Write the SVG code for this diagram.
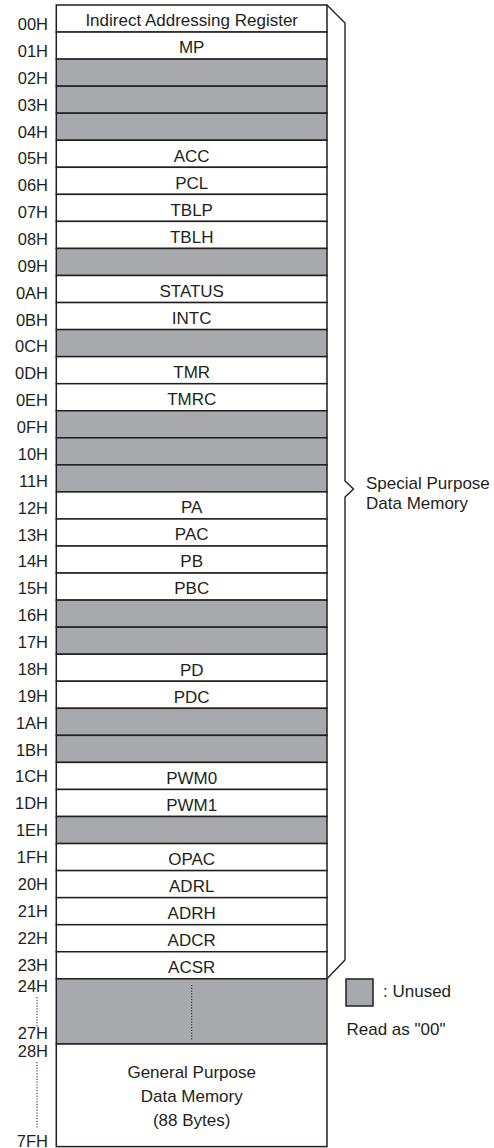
<svg xmlns="http://www.w3.org/2000/svg" width="494" height="1148" viewBox="0 0 494 1148">
<style>
text{font-family:"Liberation Sans",Arial,sans-serif;fill:#231f20}
.t{font-size:17px;text-anchor:middle}
.l{font-size:16.5px;text-anchor:end}
.r{fill:#fff;stroke:#231f20;stroke-width:1.5}
.g{fill:#a7a9ac;stroke:#231f20;stroke-width:1.5}
.d{stroke:#231f20;stroke-width:1;stroke-dasharray:1.2 1.6;fill:none}
.b{fill:none;stroke:#231f20;stroke-width:1.4}
</style>
<g id="labels">
<text class="l" x="48" y="30">00H</text>
<text class="l" x="48" y="56.9">01H</text>
<text class="l" x="48" y="83.7">02H</text>
<text class="l" x="48" y="110.6">03H</text>
<text class="l" x="48" y="137.5">04H</text>
<text class="l" x="48" y="164.4">05H</text>
<text class="l" x="48" y="191.2">06H</text>
<text class="l" x="48" y="218.1">07H</text>
<text class="l" x="48" y="245">08H</text>
<text class="l" x="48" y="271.8">09H</text>
<text class="l" x="48" y="298.7">0AH</text>
<text class="l" x="48" y="325.6">0BH</text>
<text class="l" x="48" y="352.4">0CH</text>
<text class="l" x="48" y="379.3">0DH</text>
<text class="l" x="48" y="406.2">0EH</text>
<text class="l" x="48" y="433.1">0FH</text>
<text class="l" x="48" y="459.9">10H</text>
<text class="l" x="48" y="486.8">11H</text>
<text class="l" x="48" y="513.7">12H</text>
<text class="l" x="48" y="540.5">13H</text>
<text class="l" x="48" y="567.4">14H</text>
<text class="l" x="48" y="594.3">15H</text>
<text class="l" x="48" y="621.1">16H</text>
<text class="l" x="48" y="648">17H</text>
<text class="l" x="48" y="674.9">18H</text>
<text class="l" x="48" y="701.8">19H</text>
<text class="l" x="48" y="728.6">1AH</text>
<text class="l" x="48" y="755.5">1BH</text>
<text class="l" x="48" y="782.4">1CH</text>
<text class="l" x="48" y="809.2">1DH</text>
<text class="l" x="48" y="836.1">1EH</text>
<text class="l" x="48" y="863">1FH</text>
<text class="l" x="48" y="889.8">20H</text>
<text class="l" x="48" y="916.7">21H</text>
<text class="l" x="48" y="943.6">22H</text>
<text class="l" x="48" y="970.5">23H</text>
<text class="l" x="48" y="991.7">24H</text>
<text class="l" x="48" y="1039">27H</text>
<text class="l" x="48" y="1056.7">28H</text>
<text class="l" x="48" y="1146.5">7FH</text>
<line class="d" x1="37" y1="997" x2="37" y2="1027"/>
<line class="d" x1="37" y1="1062" x2="37" y2="1128"/>
</g>
<g id="r00"><rect class="r" x="56.3" y="5" width="270.7" height="27.05"/><text class="t" x="191.7" y="26">Indirect Addressing Register</text></g>
<g id="r01"><rect class="r" x="56.3" y="32.05" width="270.7" height="27.05"/><text class="t" x="191.7" y="53.3">MP</text></g>
<g id="r02"><rect class="g" x="56.3" y="59.1" width="270.7" height="27.05"/></g>
<g id="r03"><rect class="g" x="56.3" y="86.15" width="270.7" height="27.05"/></g>
<g id="r04"><rect class="g" x="56.3" y="113.2" width="270.7" height="27.05"/></g>
<g id="r05"><rect class="r" x="56.3" y="140.25" width="270.7" height="27.05"/><text class="t" x="191.7" y="161.5">ACC</text></g>
<g id="r06"><rect class="r" x="56.3" y="167.3" width="270.7" height="27.05"/><text class="t" x="191.7" y="188.6">PCL</text></g>
<g id="r07"><rect class="r" x="56.3" y="194.35" width="270.7" height="27.05"/><text class="t" x="191.7" y="215.6">TBLP</text></g>
<g id="r08"><rect class="r" x="56.3" y="221.4" width="270.7" height="27.05"/><text class="t" x="191.7" y="242.7">TBLH</text></g>
<g id="r09"><rect class="g" x="56.3" y="248.45" width="270.7" height="27.05"/></g>
<g id="r0A"><rect class="r" x="56.3" y="275.5" width="270.7" height="27.05"/><text class="t" x="191.7" y="296.8">STATUS</text></g>
<g id="r0B"><rect class="r" x="56.3" y="302.55" width="270.7" height="27.05"/><text class="t" x="191.7" y="323.8">INTC</text></g>
<g id="r0C"><rect class="g" x="56.3" y="329.6" width="270.7" height="27.05"/></g>
<g id="r0D"><rect class="r" x="56.3" y="356.65" width="270.7" height="27.05"/><text class="t" x="191.7" y="377.9">TMR</text></g>
<g id="r0E"><rect class="r" x="56.3" y="383.7" width="270.7" height="27.05"/><text class="t" x="191.7" y="405">TMRC</text></g>
<g id="r0F"><rect class="g" x="56.3" y="410.75" width="270.7" height="27.05"/></g>
<g id="r10"><rect class="g" x="56.3" y="437.8" width="270.7" height="27.05"/></g>
<g id="r11"><rect class="g" x="56.3" y="464.85" width="270.7" height="27.05"/></g>
<g id="r12"><rect class="r" x="56.3" y="491.9" width="270.7" height="27.05"/><text class="t" x="191.7" y="513.2">PA</text></g>
<g id="r13"><rect class="r" x="56.3" y="518.95" width="270.7" height="27.05"/><text class="t" x="191.7" y="540.2">PAC</text></g>
<g id="r14"><rect class="r" x="56.3" y="546" width="270.7" height="27.05"/><text class="t" x="191.7" y="567.3">PB</text></g>
<g id="r15"><rect class="r" x="56.3" y="573.05" width="270.7" height="27.05"/><text class="t" x="191.7" y="594.3">PBC</text></g>
<g id="r16"><rect class="g" x="56.3" y="600.1" width="270.7" height="27.05"/></g>
<g id="r17"><rect class="g" x="56.3" y="627.15" width="270.7" height="27.05"/></g>
<g id="r18"><rect class="r" x="56.3" y="654.2" width="270.7" height="27.05"/><text class="t" x="191.7" y="675.5">PD</text></g>
<g id="r19"><rect class="r" x="56.3" y="681.25" width="270.7" height="27.05"/><text class="t" x="191.7" y="702.5">PDC</text></g>
<g id="r1A"><rect class="g" x="56.3" y="708.3" width="270.7" height="27.05"/></g>
<g id="r1B"><rect class="g" x="56.3" y="735.35" width="270.7" height="27.05"/></g>
<g id="r1C"><rect class="r" x="56.3" y="762.4" width="270.7" height="27.05"/><text class="t" x="191.7" y="783.7">PWM0</text></g>
<g id="r1D"><rect class="r" x="56.3" y="789.45" width="270.7" height="27.05"/><text class="t" x="191.7" y="810.7">PWM1</text></g>
<g id="r1E"><rect class="g" x="56.3" y="816.5" width="270.7" height="27.05"/></g>
<g id="r1F"><rect class="r" x="56.3" y="843.55" width="270.7" height="27.05"/><text class="t" x="191.7" y="864.8">OPAC</text></g>
<g id="r20"><rect class="r" x="56.3" y="870.6" width="270.7" height="27.05"/><text class="t" x="191.7" y="891.9">ADRL</text></g>
<g id="r21"><rect class="r" x="56.3" y="897.65" width="270.7" height="27.05"/><text class="t" x="191.7" y="918.9">ADRH</text></g>
<g id="r22"><rect class="r" x="56.3" y="924.7" width="270.7" height="27.05"/><text class="t" x="191.7" y="946">ADCR</text></g>
<g id="r23"><rect class="r" x="56.3" y="951.75" width="270.7" height="27.05"/><text class="t" x="191.7" y="973">ACSR</text></g>
<g id="r24"><rect class="g" x="56.3" y="978.8" width="270.7" height="65.2"/><line class="d" x1="191.7" y1="985" x2="191.7" y2="1040"/></g>
<g id="r28"><rect class="r" x="56.3" y="1044" width="270.7" height="102.6"/>
<text class="t" x="191.7" y="1078">General Purpose</text>
<text class="t" x="191.7" y="1102">Data Memory</text>
<text class="t" x="191.7" y="1125.5">(88 Bytes)</text></g>
<g id="brace"><path class="b" d="M327,5 L345,23 L345,481 L353.5,489 L345,497 L345,960 L327,978.8"/>
<text x="366" y="489" font-size="17">Special Purpose</text>
<text x="366" y="509" font-size="17">Data Memory</text></g>
<g id="legend"><rect class="g" x="346" y="979" width="27" height="27"/>
<text x="383" y="997" font-size="17">: Unused</text>
<text x="346.5" y="1035" font-size="17">Read as "00"</text></g>
</svg>
